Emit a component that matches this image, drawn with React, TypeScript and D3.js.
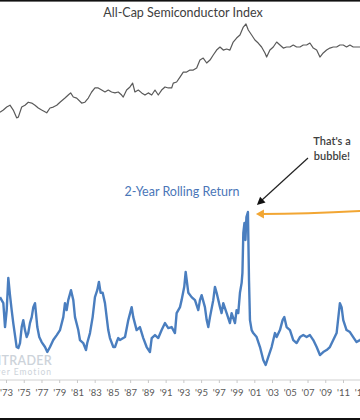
import React, { useEffect, useRef } from 'react';
import * as d3 from 'd3';

const chartTitle = 'All-Cap Semiconductor Index';
const returnTitle = '2-Year Rolling Return';
const bubbleNote = ["That's a", 'bubble!'];

// index level (log scale) as [decimal year, level]
const indexLevel: [number, number][] = [
  [1972.32, 53], [1972.7, 57], [1973.08, 63], [1973.45, 67], [1973.82, 57], [1974.2, 44],
  [1974.39, 45], [1974.77, 63], [1975.14, 67], [1975.51, 74], [1975.9, 72], [1976.27, 67],
  [1976.64, 61], [1977.02, 57], [1977.59, 52], [1977.96, 61], [1978.33, 63], [1978.72, 67],
  [1979.09, 74], [1979.65, 85], [1980.02, 94], [1980.29, 101], [1980.59, 88], [1980.97, 85],
  [1981.53, 72], [1981.9, 74], [1982.28, 85], [1982.66, 104], [1983.03, 119], [1983.4, 119],
  [1983.79, 111], [1984.16, 104], [1984.53, 111], [1984.9, 104], [1985.29, 101], [1985.66, 104],
  [1986.04, 94], [1986.22, 88], [1986.6, 111], [1986.98, 123], [1987.28, 140], [1987.54, 104],
  [1987.92, 111], [1988.3, 101], [1988.67, 94], [1989.04, 101], [1989.43, 94], [1989.8, 111],
  [1990.17, 94], [1990.55, 111], [1990.93, 123], [1991.3, 119], [1991.68, 119], [1991.86, 140],
  [1992.24, 145], [1992.62, 171], [1992.99, 202], [1993.37, 202], [1993.74, 216], [1994.12, 216],
  [1994.5, 231], [1994.87, 301], [1995.24, 322], [1995.63, 273], [1996.0, 301], [1996.37, 356],
  [1996.75, 420], [1997.13, 465], [1997.5, 420], [1997.88, 435], [1998.25, 420], [1998.62, 549],
  [1999.0, 627], [1999.38, 693], [1999.76, 904], [2000.06, 1000], [2000.32, 818], [2000.7, 693],
  [2001.07, 587], [2001.44, 531], [2001.82, 465], [2002.2, 381], [2002.39, 333], [2002.76, 420],
  [2003.14, 465], [2003.52, 549], [2003.89, 497], [2004.27, 449], [2004.64, 465], [2005.02, 465],
  [2005.39, 497], [2005.77, 465], [2006.15, 465], [2006.52, 497], [2006.9, 497], [2007.27, 531],
  [2007.65, 449], [2008.03, 420], [2008.4, 333], [2008.77, 381], [2009.15, 420], [2009.52, 449],
  [2009.9, 465], [2010.28, 465], [2010.65, 497], [2011.03, 497], [2011.4, 465], [2011.78, 497],
  [2012.15, 465], [2012.53, 465], [2012.91, 465], [2013.2, 465],
];

// 2-year rolling return in % as [decimal year, return]
const rollingReturn: [number, number][] = [
  [1972.32, 144], [1972.7, 126], [1972.89, 54], [1973.08, 105], [1973.26, 202], [1973.45, 150],
  [1973.64, 105], [1973.82, 66], [1974.2, -6], [1974.39, -9], [1974.58, 6], [1974.77, 54],
  [1974.95, 75], [1975.14, 45], [1975.33, 24], [1975.51, 36], [1975.7, 66], [1975.9, 84],
  [1976.08, 114], [1976.27, 126], [1976.38, 96], [1976.53, 54], [1976.75, 24], [1977.02, 9],
  [1977.4, -6], [1977.66, -21], [1977.96, -6], [1978.33, 15], [1978.72, 30], [1979.09, 45],
  [1979.46, 84], [1979.65, 126], [1979.84, 105], [1980.02, 135], [1980.33, 165], [1980.59, 135],
  [1980.78, 84], [1981.15, 45], [1981.34, 15], [1981.71, 6], [1982.02, -15], [1982.16, 6],
  [1982.47, 36], [1982.77, 84], [1983.03, 144], [1983.29, 165], [1983.48, 190], [1983.67, 157],
  [1983.9, 157], [1984.16, 126], [1984.35, 84], [1984.53, 45], [1984.72, 21], [1985.1, -6],
  [1985.29, -6], [1985.48, 9], [1985.66, 21], [1985.85, 15], [1986.42, 24], [1986.79, 75],
  [1987.17, 114], [1987.35, 84], [1987.73, 45], [1988.1, 54], [1988.48, 21], [1988.86, -6],
  [1989.23, -21], [1989.43, 21], [1989.8, 30], [1990.17, 21], [1990.55, 45], [1990.93, 66],
  [1991.3, 51], [1991.68, 54], [1992.05, 36], [1992.24, 96], [1992.62, 114], [1992.8, 135],
  [1993.1, 175], [1993.26, 220], [1993.56, 157], [1993.93, 144], [1994.31, 135], [1994.68, 105],
  [1994.87, 135], [1995.06, 150], [1995.43, 114], [1995.63, 75], [1995.81, 54], [1996.0, 84],
  [1996.37, 135], [1996.56, 175], [1996.75, 157], [1997.13, 114], [1997.31, 96], [1997.5, 126],
  [1997.88, 96], [1998.25, 66], [1998.44, 96], [1998.82, 66], [1999.0, 105], [1999.19, 96],
  [1999.38, 157], [1999.57, 187], [1999.66, 217], [1999.76, 337], [1999.89, 367], [2000.0, 316],
  [2000.11, 385], [2000.28, 400], [2000.4, 196], [2000.51, 75], [2000.7, 45], [2000.88, 36],
  [2001.26, 24], [2001.64, -6], [2002.01, -45], [2002.28, -60], [2002.57, -36], [2002.95, -6],
  [2003.33, 36], [2003.52, 24], [2003.89, 45], [2004.19, 75], [2004.38, 84], [2004.64, 54],
  [2005.02, 45], [2005.39, 15], [2005.77, 6], [2006.15, 24], [2006.52, 30], [2006.9, 24],
  [2007.27, 30], [2007.65, 15], [2008.03, -6], [2008.4, -30], [2008.77, -21], [2009.15, -15],
  [2009.52, -6], [2009.9, 15], [2010.28, 36], [2010.65, 126], [2010.84, 114], [2011.03, 75],
  [2011.4, 45], [2011.78, 39], [2012.15, 24], [2012.53, 9], [2012.91, 15], [2013.2, 20],
];

const tickYears = d3.range(1973, 2015, 2);
const bubblePeak: [number, number] = [2000.28, 400];

const W = 360;
const H = 420;
const font = 'Lato, "Liberation Sans", Arial, sans-serif';

function arrowHead(tx: number, ty: number, fx: number, fy: number, len: number, half: number) {
  const a = Math.atan2(ty - fy, tx - fx);
  const bx = tx - len * Math.cos(a);
  const by = ty - len * Math.sin(a);
  const px = -Math.sin(a) * half;
  const py = Math.cos(a) * half;
  return `${tx},${ty} ${bx + px},${by + py} ${bx - px},${by - py}`;
}

const App: React.FC = () => {
  const ref = useRef<SVGSVGElement>(null);

  useEffect(() => {
    const svg = d3.select(ref.current);
    svg.selectAll('*').remove();

    const x = d3.scaleLinear().domain([1973, 2011]).range([6, 343]);
    const yTop = d3.scaleLog().domain([50, 1000]).range([114, 24]);
    const yBot = d3.scaleLinear().domain([-60, 400]).range([365, 212]);

    svg.append('rect').attr('width', W).attr('height', H).attr('fill', '#fff');

    // frame edges
    svg.append('rect').attr('x', 0).attr('y', 0).attr('width', W).attr('height', 1.6).attr('fill', '#111');
    svg.append('rect').attr('x', 0).attr('y', 418).attr('width', W).attr('height', 2).attr('fill', '#111');

    // watermark (cut off at the left edge, as in the source)
    const wm = svg.append('g').attr('fill', '#cdd3da').attr('font-family', font).attr('text-anchor', 'end');
    wm.append('text').attr('x', 52).attr('y', 365).attr('font-size', 12.5).attr('font-weight', 600)
      .attr('letter-spacing', 0.3).text('SENTIMENTRADER');
    wm.append('text').attr('x', 52).attr('y', 375).attr('font-size', 8.5)
      .attr('letter-spacing', 1).text('Data over Emotion');

    // axis
    svg.append('line').attr('x1', 0).attr('x2', W).attr('y1', 380).attr('y2', 380)
      .attr('stroke', '#d0d0d0').attr('stroke-width', 1);

    const axis = svg.append('g')
      .attr('transform', 'translate(0,380)')
      .call(d3.axisBottom(x)
        .tickValues(tickYears)
        .tickSize(3)
        .tickFormat(d => `'${String((d as number) % 100).padStart(2, '0')}`));
    axis.select('.domain').remove();
    axis.selectAll('line').attr('stroke', '#c8c8c8');
    axis.selectAll('text')
      .attr('y', 16).attr('dy', 0)
      .style('fill', '#595959')
      .style('font-family', font)
      .style('font-size', '9.5px');

    // index line
    const topLine = d3.line<[number, number]>()
      .x(d => x(d[0]))
      .y(d => yTop(d[1]));
    svg.append('path').datum(indexLevel)
      .attr('d', topLine)
      .attr('fill', 'none')
      .attr('stroke', '#5a5a5a')
      .attr('stroke-width', 1.2)
      .attr('stroke-linejoin', 'round');

    // rolling return line
    const botLine = d3.line<[number, number]>()
      .x(d => x(d[0]))
      .y(d => yBot(d[1]));
    svg.append('path').datum(rollingReturn)
      .attr('d', botLine)
      .attr('fill', 'none')
      .attr('stroke', '#4a7ebf')
      .attr('stroke-width', 2.4)
      .attr('stroke-linejoin', 'round');

    // titles
    svg.append('text').attr('x', 183).attr('y', 17)
      .attr('text-anchor', 'middle').attr('font-family', font).attr('font-size', 12.5)
      .attr('fill', '#404040').text(chartTitle);
    svg.append('text').attr('x', 182).attr('y', 196)
      .attr('text-anchor', 'middle').attr('font-family', font).attr('font-size', 12.5)
      .attr('fill', '#4a76b8').text(returnTitle);

    // annotation
    const note = svg.append('text').attr('font-family', font).attr('font-size', 11)
      .attr('fill', '#404040').attr('text-anchor', 'middle').attr('font-weight', 600);
    bubbleNote.forEach((t, i) => {
      note.append('tspan').attr('x', 332).attr('y', 145 + i * 15).text(t);
    });

    const px = x(bubblePeak[0]);
    const py = yBot(bubblePeak[1]);

    // black arrow
    const bTip: [number, number] = [px + 9, py - 7];
    const bFrom: [number, number] = [308, 158];
    svg.append('line')
      .attr('x1', bFrom[0]).attr('y1', bFrom[1])
      .attr('x2', bTip[0] + 4).attr('y2', bTip[1] - 4)
      .attr('stroke', '#222').attr('stroke-width', 1.2);
    svg.append('polygon')
      .attr('points', arrowHead(bTip[0], bTip[1], bFrom[0], bFrom[1], 8, 4))
      .attr('fill', '#111');

    // orange arrow
    const oTip: [number, number] = [px + 8, py + 2];
    svg.append('path')
      .attr('d', `M${W + 2},${oTip[1] - 3} Q${oTip[0] + 50},${oTip[1]} ${oTip[0] + 6},${oTip[1]}`)
      .attr('fill', 'none')
      .attr('stroke', '#f2a633')
      .attr('stroke-width', 2);
    svg.append('polygon')
      .attr('points', arrowHead(oTip[0], oTip[1], oTip[0] + 20, oTip[1], 8, 4.5))
      .attr('fill', '#f2a633');
  }, []);

  return (
    <svg
      ref={ref}
      width={W}
      height={H}
      style={{ position: 'fixed', left: 0, top: 0, display: 'block' }}
    />
  );
};

export default App;
